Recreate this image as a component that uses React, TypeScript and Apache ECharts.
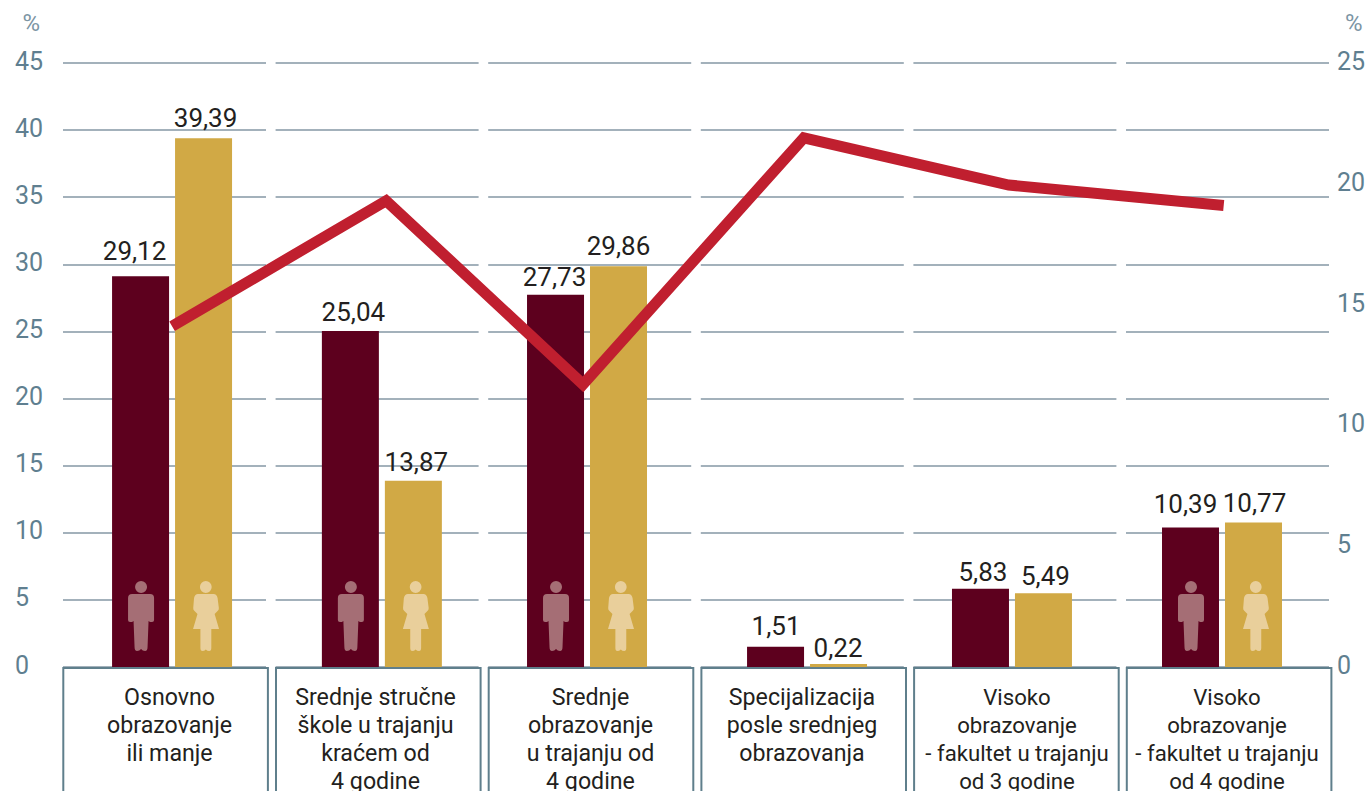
import React, { useEffect, useRef } from "react";
import * as echarts from "echarts";

const categories = [
  "Osnovno\nobrazovanje\nili manje",
  "Srednje stručne\nškole u trajanju\nkraćem od\n4 godine",
  "Srednje\nobrazovanje\nu trajanju od\n4 godine",
  "Specijalizacija\nposle srednjeg\nobrazovanja",
  "Visoko\nobrazovanje\n- fakultet u trajanju\nod 3 godine",
  "Visoko\nobrazovanje\n- fakultet u trajanju\nod 4 godine",
];
const maleValues = [29.12, 25.04, 27.73, 1.51, 5.83, 10.39];
const femaleValues = [39.39, 13.87, 29.86, 0.22, 5.49, 10.77];
const lineValues = [14.1, 19.3, 11.7, 21.9, 19.95, 19.1];
const leftMax = 45;
const rightMax = 25;

// Layout: where each group and line point sits, in panel units along the hidden x axis
const PANEL_PITCH = 212.6;
const PANEL_WIDTH = 203;
const PLOT_LEFT = 63;
const PLOT_TOP = 63;
const PLOT_HEIGHT = 604;
const barCentres = [0.513, 1.5, 2.465, 3.5, 4.464, 5.452];
const linePositions = [0.513, 1.52, 2.446, 3.485, 4.449, 5.46];
const labelNudge = [5, -1.6, 0.8, -0.3, 2.1, -0.5];
const labelFontSizes = [23.2, 23.2, 23.2, 23.2, 22.2, 22.2];
const maleLabelNudge = [-6, 3, -1, 0.5, 2.5, -5];
const femaleLabelNudge = [2, 3, 0, -0.5, 2, 1];
const maleLabelLift = [-6, 0, 1, -2, 2, -5];
const femaleLabelLift = [-1, 0, -1, 3, 2, 0];
const iconGroups = [0, 1, 2, 5];
const iconValue = 3.8;

const MALE =
  "path://M13 0a6 6 0 1 1 0 12a6 6 0 1 1 0-12Z M4 13H22Q26 13 26 17V39Q26 41 24 41H22L20.5 40L19.5 66Q19.5 70 17 70Q14.5 70 13 68Q11.5 70 9 70Q6.5 70 6.5 66L5.5 40L4 41H2Q0 41 0 39V17Q0 13 4 13Z";
const FEMALE =
  "path://M13 0a6 6 0 1 1 0 12a6 6 0 1 1 0-12Z M5 13H21Q24 13 25 17L26.3 27Q26.5 29 25 30L22 33L26.5 48H18.6V67Q18.6 70 16.5 70Q14.5 70 13 68.5Q11.5 70 9.5 70Q7.5 70 7.5 67V48H0L4.5 33L1.5 30Q0 29 .2 27L1 17Q2 13 5 13Z";

const FONT = "Roboto";
const AXIS_COLOR = "#5f7f90";
const GRID_COLOR = "#a3b1bb";
const BOX_COLOR = "#5f7f8c";
const TEXT_COLOR = "#231f20";
const fmt = (p: any) => Number(p.value[1]).toFixed(2).replace(".", ",");

export default function App() {
  const ref = useRef<HTMLDivElement>(null);
  useEffect(() => {
    const chart = echarts.init(ref.current!, null, { renderer: "svg" });
    const panels = categories.map((_, i) => i);
    const mainGrid = panels.length;
    const mainWidth = PANEL_PITCH * 5 + PANEL_WIDTH;

    const barSeries = (name: string, values: number[], color: string, nudge: number[], lift: number[]) => ({
      name,
      type: "bar",
      xAxisIndex: mainGrid,
      yAxisIndex: mainGrid,
      barWidth: 57,
      barGap: "10.5%",
      data: values.map((v, i) => ({
        value: [barCentres[i], v],
        label: { offset: [nudge[i], lift[i]] },
      })),
      itemStyle: { color },
      label: {
        show: true,
        position: "top",
        distance: 6,
        formatter: fmt,
        fontFamily: FONT,
        fontSize: 26,
        color: TEXT_COLOR,
      },
    });
    const iconSeries = (name: string, symbol: string, color: string, offset: number) => ({
      name,
      type: "scatter",
      xAxisIndex: mainGrid,
      yAxisIndex: mainGrid,
      symbol,
      symbolSize: [26, 70],
      symbolOffset: [offset, 0],
      itemStyle: { color, opacity: 1 },
      silent: true,
      data: iconGroups.map((g) => [barCentres[g], iconValue]),
    });

    chart.setOption({
      animation: false,
      grid: [
        ...panels.map((i) => ({
          left: PLOT_LEFT + PANEL_PITCH * i,
          top: PLOT_TOP,
          width: PANEL_WIDTH,
          height: PLOT_HEIGHT,
        })),
        { left: PLOT_LEFT, top: PLOT_TOP, width: mainWidth, height: PLOT_HEIGHT },
      ],
      xAxis: [
        ...panels.map((i) => ({
          type: "category",
          gridIndex: i,
          data: [categories[i]],
          axisLine: { show: false },
          axisTick: { show: false },
          axisLabel: {
            interval: 0,
            margin: 16,
            fontFamily: FONT,
            fontSize: labelFontSizes[i],
            lineHeight: 28,
            color: TEXT_COLOR,
            verticalAlign: "top",
            padding: labelNudge[i] >= 0 ? [0, 0, 0, labelNudge[i] * 2] : [0, -labelNudge[i] * 2, 0, 0],
          },
        })),
        {
          type: "value",
          gridIndex: mainGrid,
          min: 0,
          max: mainWidth / PANEL_PITCH,
          show: false,
        },
      ],
      yAxis: [
        ...panels.map((i) => ({
          type: "value",
          gridIndex: i,
          min: 0,
          max: leftMax,
          interval: 5,
          axisLine: { show: false },
          axisTick: { show: false },
          axisLabel: { show: false },
          splitLine: { show: true, lineStyle: { color: GRID_COLOR, width: 2 } },
        })),
        {
          type: "value",
          gridIndex: mainGrid,
          position: "left",
          min: 0,
          max: leftMax,
          interval: 5,
          name: "%",
          nameLocation: "end",
          nameGap: 28,
          nameTextStyle: {
            fontFamily: FONT,
            fontSize: 24,
            color: "#7c95a4",
            align: "right",
            padding: [0, 23, 0, 0],
          },
          axisLine: { show: false },
          axisTick: { show: false },
          splitLine: { show: false },
          axisLabel: { margin: 48, align: "left", verticalAlign: "bottom", lineHeight: 4, fontFamily: FONT, fontSize: 25, color: AXIS_COLOR },
        },
        {
          type: "value",
          gridIndex: mainGrid,
          position: "right",
          min: 0,
          max: rightMax,
          interval: 5,
          name: "%",
          nameLocation: "end",
          nameGap: 28,
          nameTextStyle: {
            fontFamily: FONT,
            fontSize: 24,
            color: "#7c95a4",
            align: "left",
            padding: [0, 0, 0, 16],
          },
          axisLine: { show: false },
          axisTick: { show: false },
          splitLine: { show: false },
          axisLabel: { margin: 8, align: "left", verticalAlign: "bottom", lineHeight: 3, fontFamily: FONT, fontSize: 25, color: AXIS_COLOR },
        },
      ],
      series: [
        barSeries("Muškarci", maleValues, "#5d001e", maleLabelNudge, maleLabelLift),
        barSeries("Žene", femaleValues, "#d1a945", femaleLabelNudge, femaleLabelLift),
        iconSeries("Muškarci ikona", MALE, "#a56e75", -31),
        iconSeries("Žene ikona", FEMALE, "#e9cf9b", 34),
        {
          name: "Udeo",
          type: "line",
          xAxisIndex: mainGrid,
          yAxisIndex: mainGrid + 1,
          symbol: "none",
          z: 5,
          lineStyle: { color: "#c01f2f", width: 11, cap: "butt", join: "miter" },
          data: lineValues.map((v, i) => [linePositions[i], v]),
        },
      ],
      graphic: panels.map((i) => ({
        type: "rect",
        z: 3,
        silent: true,
        shape: { x: 63.3 + 212.7 * i, y: 668, width: 204.6, height: 200 },
        style: { fill: "none", stroke: BOX_COLOR, lineWidth: 2 },
      })),
    });
    return () => chart.dispose();
  }, []);
  return (
    <div style={{ position: "absolute", left: 0, top: 0, width: 1368, height: 791, overflow: "hidden" }}>
      <div ref={ref} style={{ width: 1368, height: 860 }} />
    </div>
  );
}
